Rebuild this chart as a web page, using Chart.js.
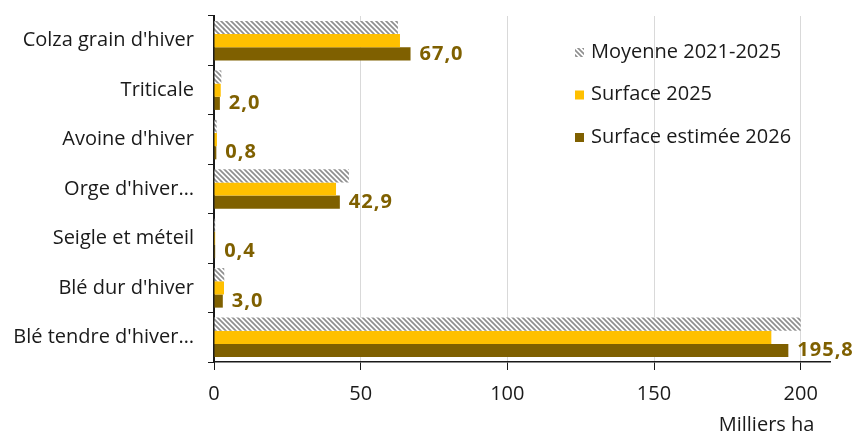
<!DOCTYPE html>
<html>
<head>
<meta charset="utf-8">
<script src="https://cdn.jsdelivr.net/npm/chart.js@4.4.1/dist/chart.umd.min.js"></script>
<style>
  html, body { margin: 0; padding: 0; background: #fff; }
  #wrap { width: 857px; height: 435px; }
</style>
</head>
<body>
<div id="wrap"><canvas id="myChart" width="857" height="435"></canvas></div>
<script>
const categories = ["Colza grain d'hiver", "Triticale", "Avoine d'hiver", "Orge d'hiver…", "Seigle et méteil", "Blé dur d'hiver", "Blé tendre d'hiver…"];
const moyenne = [62.7, 2.5, 0.9, 46.0, 0.4, 3.5, 200.0];
const surface2025 = [63.4, 2.3, 1.0, 41.6, 0.4, 3.4, 190.0];
const surface2026 = [67.0, 2.0, 0.8, 42.9, 0.4, 3.0, 195.8];
const xTicks = [0, 50, 100, 150, 200];

const FONT = "'Open Sans', 'Noto Sans', sans-serif";
const brown = "#7F6000";
const yellow = "#FFC000";

// diagonal hatch for the average series
function hatch() {
  const c = document.createElement("canvas");
  c.width = 5; c.height = 5;
  const g = c.getContext("2d");
  g.fillStyle = "#fff";
  g.fillRect(0, 0, 5, 5);
  g.strokeStyle = "#8f8f8f";
  g.lineWidth = 1.7;
  g.beginPath();
  g.moveTo(-1, -1); g.lineTo(6, 6);
  g.moveTo(-1, 4); g.lineTo(1, 6);
  g.moveTo(4, -1); g.lineTo(6, 1);
  g.stroke();
  return g.createPattern(c, "repeat");
}
const hatchFill = hatch();

// values printed after the 2026 bars
const valueLabels = {
  id: "valueLabels",
  afterDatasetsDraw(chart) {
    const ctx = chart.ctx;
    const meta = chart.getDatasetMeta(2);
    ctx.save();
    ctx.font = "bold 20px " + FONT;
    ctx.letterSpacing = "1px";
    ctx.fillStyle = brown;
    ctx.textAlign = "left";
    ctx.textBaseline = "middle";
    meta.data.forEach((bar, i) => {
      ctx.fillText(surface2026[i].toFixed(1).replace(".", ","), bar.x + 9, bar.y);
    });
    ctx.restore();
  }
};

// legend drawn inside the plot, top right
const sideLegend = {
  id: "sideLegend",
  afterDraw(chart) {
    const ctx = chart.ctx;
    ctx.save();
    ctx.font = "20px " + FONT;
    ctx.textBaseline = "middle";
    chart.data.datasets.forEach((ds, i) => {
      const y = 52 + i * 42.5;
      ctx.fillStyle = ds.backgroundColor;
      ctx.fillRect(575, y - 4, 9, 9);
      ctx.fillStyle = "#1a1a1a";
      ctx.fillText(ds.label, 591, y);
    });
    ctx.restore();
  }
};

const ctx = document.getElementById("myChart").getContext("2d");
new Chart(ctx, {
  type: "bar",
  data: {
    labels: categories,
    datasets: [
      { label: "Moyenne 2021-2025", data: moyenne, backgroundColor: hatchFill },
      { label: "Surface 2025", data: surface2025, backgroundColor: yellow },
      { label: "Surface estimée 2026", data: surface2026, backgroundColor: brown }
    ]
  },
  options: {
    indexAxis: "y",
    responsive: false,
    animation: false,
    layout: { padding: { top: 16, right: 27, left: 0, bottom: 0 } },
    datasets: { bar: { categoryPercentage: 0.8, barPercentage: 1.0 } },
    plugins: {
      legend: { display: false },
      tooltip: { enabled: false }
    },
    scales: {
      x: {
        min: 0,
        max: 210,
        afterBuildTicks: (axis) => { axis.ticks = xTicks.map(v => ({ value: v })); },
        ticks: { color: "#1a1a1a", font: { family: FONT, size: 20 }, padding: 12 },
        grid: { color: "#d9d9d9", tickColor: "#1a1a1a", tickLength: 8, lineWidth: 1 },
        border: { color: "#1a1a1a", width: 1.5 },
        title: {
          display: true, text: "Milliers ha   ", align: "end", color: "#1a1a1a",
          font: { family: FONT, size: 20, lineHeight: 1.0 }, padding: { top: 0, bottom: 0 }
        },
        afterFit: (s) => { s.height = 73; }
      },
      y: {
        ticks: { color: "#1a1a1a", font: { family: FONT, size: 20 }, padding: 14 },
        grid: { offset: true, drawOnChartArea: false, tickColor: "#1a1a1a", tickLength: 6 },
        border: { color: "#1a1a1a", width: 2 },
        afterFit: (s) => { s.width = 214; s.paddingTop = 0; s.paddingBottom = 0; }
      }
    }
  },
  plugins: [valueLabels, sideLegend]
});
</script>
</body>
</html>
